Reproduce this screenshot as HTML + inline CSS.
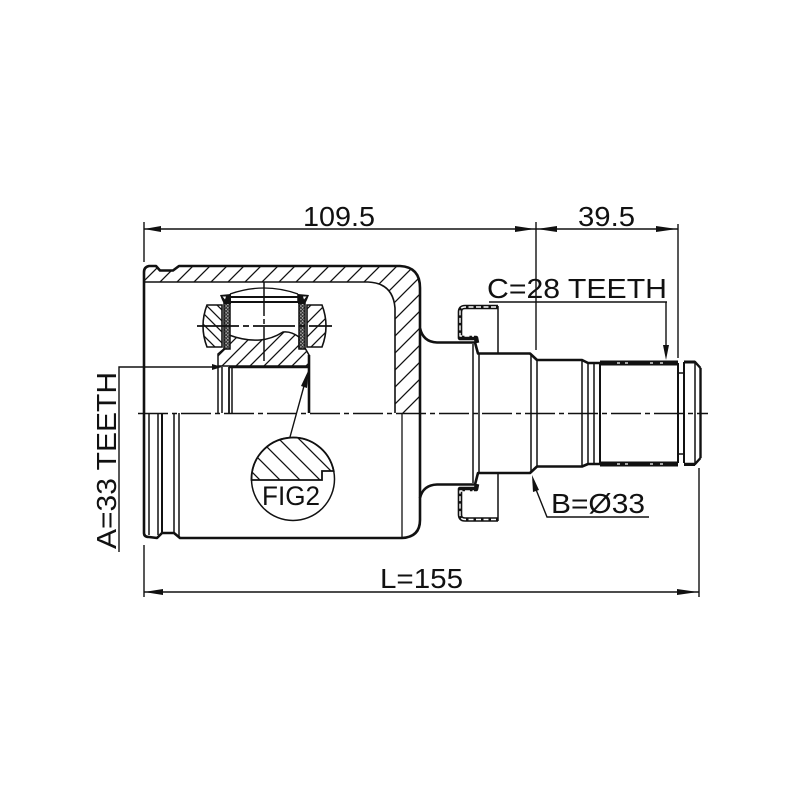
<!DOCTYPE html>
<html>
<head>
<meta charset="utf-8">
<style>
html,body{margin:0;padding:0;background:#fff}
svg{display:block}
text{font-family:"Liberation Sans",sans-serif;font-size:28px;fill:#111}
</style>
</head>
<body>
<svg width="800" height="800" viewBox="0 0 800 800" xmlns="http://www.w3.org/2000/svg">
<defs>
<pattern id="h1" patternUnits="userSpaceOnUse" width="17" height="17">
<path d="M-2,19 L19,-2 M-2,2 L2,-2 M15,19 L19,15" stroke="#111" stroke-width="1.3"/>
</pattern>
<pattern id="h2" patternUnits="userSpaceOnUse" width="11" height="11">
<path d="M-2,-2 L13,13 M-2,9 L2,13 M9,-2 L13,2" stroke="#111" stroke-width="1.3"/>
</pattern>
<pattern id="h3" patternUnits="userSpaceOnUse" width="14" height="14">
<path d="M-2,16 L16,-2 M-2,2 L2,-2 M12,16 L16,12" stroke="#111" stroke-width="1.3"/>
</pattern>
<pattern id="h4" patternUnits="userSpaceOnUse" width="20" height="20">
<path d="M-2,-2 L22,22 M-2,18 L2,22 M18,-2 L22,2" stroke="#111" stroke-width="1.3"/>
</pattern>
<pattern id="x" patternUnits="userSpaceOnUse" width="3.4" height="3.4">
<rect width="3.4" height="3.4" fill="#bbb"/>
<path d="M0,0 L3.4,3.4 M3.4,0 L0,3.4" stroke="#222" stroke-width=".9"/>
</pattern>
</defs>

<!-- hatched regions -->
<path d="M145,282 L145,272 Q145,267 149,267 L156,267 L160,270.5 L173,270.5 L179,267 L400,267 Q420,268 420,288 L420,413 L395,413 L395,308 Q393,283 368,282 Z" fill="url(#h1)"/>
<path d="M222,305 L207,305 Q199,326 207,347 L222,347 Z" fill="url(#h2)" stroke="#111" stroke-width="1.6"/>
<path d="M307,305 L322,305 Q330,326 322,347 L307,347 Z" fill="url(#h3)" stroke="#111" stroke-width="1.6"/>
<path d="M229,335 Q245,341 260,340 Q272,339 283,332 Q291,331 299,337 L299,348 L305,348 L309,355 L309,366 L218,366 L218,354 L225,348 L229,348 Z" fill="url(#h3)" stroke="#111" stroke-width="1.5"/>
<rect x="224" y="303" width="6" height="46" fill="url(#x)" stroke="#111" stroke-width="1.5"/>
<rect x="299" y="303" width="6" height="46" fill="url(#x)" stroke="#111" stroke-width="1.5"/>

<!-- trunnion cap -->
<g fill="none" stroke="#111" stroke-width="1.5">
<path d="M230,294 Q264,282 298,294" stroke-width="1.3"/>
<path d="M230,294 L230,302 M298,294 L298,302"/>
<path d="M230,297 L298,297" stroke-width="2"/>
<path d="M230,302 L298,302" stroke-width="2"/>
</g>
<g fill="#111">
<polygon points="220,295 231,294 231,304 224,304 222,300"/>
<polygon points="309,295 298,294 298,304 305,304 307,300"/>
</g>
<g fill="#fff">
<polygon points="222.5,296.5 226,296.5 225,299.5"/>
<polygon points="306.5,296.5 303,296.5 304,299.5"/>
</g>

<!-- body outline -->
<g fill="none" stroke="#111" stroke-linejoin="round">
<path d="M144,413 L144,272 Q144,267 149,266 L156,266 L160,270.5 L173,270.5 L179,266 L400,266 Q420,267 420,288 L420,328 Q423,342 437,342.5 L475,342.5 L478,353.5 L530,353.5 L537,360 L582,360 L588,363 L600,363" stroke-width="2.6"/>
<path d="M144,413 L144,533 Q144,537 149,537 L157,538 L162,533 L174,533 L180,538 L402,538 Q420,537 420,520 L420,498 Q423,485 437,484.5 L475,484.5 L478,473 L530,473 L537,466.5 L582,466.5 L588,464 L600,464" stroke-width="2.6"/>
<path d="M420,328 L420,498" stroke-width="2.6"/>
<path d="M145,282 L368,282 Q393,283 395,308 L395,413" stroke-width="1.6"/>
<path d="M402,413 L402,538" stroke-width="1.3"/>
<path d="M149,413 V535 M158,413 V535 M174,413 V533 M179,413 V537" stroke-width="1.5"/>
<path d="M162,413 V533" stroke-width="2"/>
<path d="M218,367 V413 M222,367 V413 M232,367 V413" stroke-width="1.5"/>
<path d="M229,367 V413" stroke-width="1.8"/>
<path d="M309,355 V413" stroke-width="2.6"/>
<path d="M229,367 L309,367" stroke-width="2.6"/>
</g>

<!-- shaft -->
<g fill="none" stroke="#111" stroke-width="1.5">
<path d="M473,344 V483 M479,353 V473 M531,354 V473 M537,360 V467 M582,360 V467 M588,363 V464 M594,363 V464" />
<path d="M600,362 V465" stroke-width="2"/>
<path d="M678,363 V463" stroke-width="2"/>
<path d="M684,373 V454 M678,373 H684 M678,454 H684" />
<path d="M684,362 V463" stroke-width="2"/>
<path d="M695,362 V463" />
<path d="M700.5,368 V458" stroke-width="2.4"/>
<path d="M684,362 L695,362 L700.5,368 M684,464 L695,464 L700.5,458" stroke-width="2.4"/>
</g>
<rect x="600" y="360.5" width="78" height="5" fill="#111"/>
<rect x="600" y="461.5" width="78" height="5" fill="#111"/>
<rect x="684" y="360.5" width="11" height="3" fill="#111"/>
<rect x="684" y="463" width="11" height="3" fill="#111"/>
<g stroke="#fff" stroke-width="1.2">
<path d="M617,363 h3 M625,363 h3 M650,363 h3 M660,363 h3 M617,464 h3 M625,464 h3 M650,464 h3 M660,464 h3"/>
</g>

<!-- dust shield -->
<g fill="none" stroke-linejoin="round">
<path d="M498,307 L465,307 Q460,307 460,312 L460,338 L476,338 L477,343" stroke="#111" stroke-width="4.6"/>
<path d="M496,307 L465,307 Q460,307 460,312 L460,336 L474,336" stroke="#fff" stroke-width="1.4" stroke-dasharray="5 2.5"/>
<path d="M498,519.5 L465,519.5 Q460,519.5 460,514.5 L460,489 L476,489 L477,484" stroke="#111" stroke-width="4.6"/>
<path d="M496,519.5 L465,519.5 Q460,519.5 460,514.5 L460,491 L474,491" stroke="#fff" stroke-width="1.4" stroke-dasharray="5 2.5"/>
<path d="M498,306 V353 M498,473 V521" stroke="#111" stroke-width="1.5"/>
</g>

<!-- centre lines -->
<g fill="none" stroke="#111" stroke-width="1.4">
<path d="M138,413.5 H708" stroke-dasharray="30 4 5 4"/>
<path d="M197,326 H332" stroke-dasharray="42 4 6 4" stroke-width="1.7"/>
<path d="M264,282 V362" stroke-dasharray="34 3 5 3" stroke-width="1.5"/>
</g>

<!-- FIG2 detail -->
<circle cx="293" cy="479" r="41.5" fill="#fff" stroke="#111" stroke-width="1.5"/>
<path d="M251.5,480 L322,480 L322,471 L333.7,471 A41.5,41.5 0 0 0 251.5,480 Z" fill="url(#h4)" stroke="#111" stroke-width="1.8"/>
<text x="262" y="505" textLength="58" lengthAdjust="spacingAndGlyphs" style="font-size:27px">FIG2</text>
<path d="M290,437 L307,375" stroke="#111" stroke-width="1.4"/>
<polygon points="309,369 307,388 301,386" fill="#111"/>

<!-- dimensions -->
<g fill="none" stroke="#111" stroke-width="1.4">
<path d="M144,229 H678"/>
<path d="M144,222 V262 M144,545 V597 M536,222 V350 M678,224 V358 M699,468 V597"/>
<path d="M144,592 H699" stroke-width="1.6"/>
<path d="M489,302 H667 M666,302 V345"/>
<path d="M649,517 H547 L533,482"/>
<path d="M119,552 V367 H212"/>
</g>
<g fill="#111">
<polygon points="144,229 161,226 161,232"/>
<polygon points="535,229 515,226 515,232"/>
<polygon points="537,229 557,226 557,232"/>
<polygon points="677,229 656,226 656,232"/>
<polygon points="144,592 163,589 163,595"/>
<polygon points="698,592 677,589 677,595"/>
<polygon points="666,360 663,345 669,345"/>
<polygon points="532,475 539,490 533,492"/>
<polygon points="222,367 212,364 212,370"/>
</g>

<text x="303" y="226" textLength="72" lengthAdjust="spacingAndGlyphs">109.5</text>
<text x="578" y="226" textLength="57" lengthAdjust="spacingAndGlyphs">39.5</text>
<text x="487" y="298" textLength="180" lengthAdjust="spacingAndGlyphs">C=28 TEETH</text>
<text x="551" y="513" textLength="94" lengthAdjust="spacingAndGlyphs">B=Ø33</text>
<text x="380" y="588" textLength="83" lengthAdjust="spacingAndGlyphs">L=155</text>
<text transform="translate(116,549) rotate(-90)" textLength="177" lengthAdjust="spacingAndGlyphs">A=33 TEETH</text>
</svg>
</body>
</html>
